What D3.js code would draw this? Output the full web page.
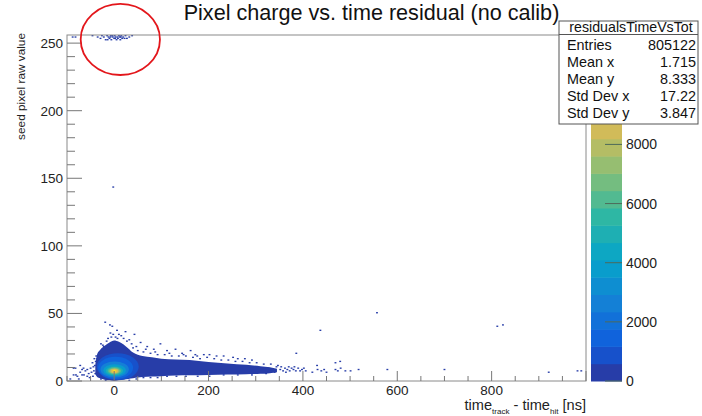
<!DOCTYPE html>
<html><head><meta charset="utf-8">
<script src="https://cdn.jsdelivr.net/npm/d3@7"></script>
<style>body{margin:0;background:#fff}svg{display:block;font-family:"Liberation Sans",Arial,Helvetica,sans-serif}</style>
</head><body><svg id="c" width="702" height="416"></svg>
<script>
// ---------- data ----------
const titleText = "Pixel charge vs. time residual (no calib)";
const xDomain = [-100, 1000];
const yDomain = [0, 256];
const zMax = 11700;
const nContours = 20;
const xTicks = [0, 200, 400, 600, 800];
const yTicks = [0, 50, 100, 150, 200, 250];
const zTicks = [0, 2000, 4000, 6000, 8000];

// dense body of the 2D histogram: column x (ns), lower / upper edge (raw value)
const bodyX  = [-40, -36, -30, -20, -10, 0, 10, 20, 30, 40, 50, 60, 80, 100, 130, 160, 200, 240, 280, 310, 330, 345];
const bodyLo = [5, 3, 2, 1, 0.5, 0, 0.5, 1, 1.5, 2, 2.5, 3, 3.3, 3.6, 4, 4.2, 4.4, 4.8, 5, 5.3, 5.8, 6.5];
const bodyHi = [12, 20, 23, 26, 28.5, 30, 29, 27, 24, 21, 19.5, 18.5, 17.5, 16.5, 16, 15.5, 14, 13, 12, 11, 10.2, 9];

// hot core: contour band and its extent
const coreBand = [1, 2, 4, 6, 8, 10, 12, 14, 16, 18];
const coreX0 = [-37, -34, -29, -23, -18, -14, -10.5, -7.5, -4.5, -2];
const coreX1 = [52, 40, 31, 25, 19, 15, 11.5, 8.5, 5.5, 3];
const coreY0 = [0.7, 1.5, 2.6, 3.6, 4.3, 4.9, 5.4, 5.8, 6.3, 6.9];
const coreY1 = [20.5, 18, 14.5, 12.4, 10.8, 10.1, 9.5, 9.0, 8.6, 8.1];

// isolated low-count bins [time residual, raw value]
const sparseBins = [
 // overflow cluster near 255
 [-90,254],[-84,254],[-48,255],[-43,256],[-37,254],[-31,253],[-28,255],[-24,254],[-20,252],[-17,255],[-14,254],[-12,253],[-9,255],[-8,252],[-5,254],[-4,256],[-2,253],[-1,255],[1,254],[3,252],[3,256],[5,254],[6,253],[8,255],[10,254],[11,252],[13,255],[15,253],[17,254],[18,256],[20,253],[22,255],[30,254],[36,255],[43,256],
 [-16,252],[-6,255],[0,253],[7,256],[12,254],[-10,254],[25,253],
 [-4,143],
 // far outliers
 [435,37],[555,50],[810,40],[822,41],[384,20],[428,11],[467,13],[477,14],
 // tail end
 [350,8],[356,7],[360,9],[365,8],[370,7],[374,9],[378,8],[383,7],[388,9],[392,7],[396,8],[400,9],[404,7],[418,6],[429,8],[437,7],[443,8],[448,6],[467,8],[472,7],[478,9],[488,7],[499,7],[516,8],[577,8],[698,8],[919,6],[980,7],[988,7],
 [320,7],[325,9],[332,8],[338,6],[342,10],[352,10],[362,6],[368,10],[380,10],
 // left of the peak
 [-95,1],[-88,4],[-88,9],[-84,9],[-83,4],[-80,3],[-77,1],[-74,6],[-74,11],[-70,8],[-70,4],[-67,9],[-66,4],[-63,7],[-59,3],[-59,8],[-56,5],[-52,9],[-50,6],[-47,3],[-45,7],[-43,11],[-41,14],[-42,5],
 [-46,10],[-44,16],[-40,18],[-48,13],[-54,2],
 // above the peak
 [-21,43],[-11,41],[-6,40],[4,37],[22,36],[41,34],[-10,35],[1,32],[13,33],[-24,25],[-28,22],[-33,18],[-38,16],[-36,12],[-30,27],[-15,31],[8,34],[30,30],[35,27],[45,25],[54,28],[68,25],[82,23],[96,27],[110,22],[128,23],[142,20],[160,22],[174,18],[188,19],
 [-18,29],[-8,32],[5,31],[18,31],[25,29],[-26,26],[-4,34],[38,24],[48,22],
 // upper fringe of the tail
 [60,21],[75,20],[90,19],[105,19],[120,18],[135,18],[150,18],[165,17],[180,16],[195,17],[210,16],[225,15],[240,15],[255,14],[270,14],[285,13],[300,13],[315,12],[330,12],[345,11],[200,19],[230,18],[260,16],[290,15],
 [65,23],[85,21],[115,20],[145,19],[170,19],[215,18],[250,17],[275,16],
 // lower fringe of the tail
 [30,0],[45,1],[60,2],[75,2],[90,2],[110,3],[130,3],[150,3],[175,3],[200,3],[230,4],[260,4],[290,4],[320,5],[-20,0],[-30,1]
];
const binW = 4, binH = 1;

const statsName = "residualsTimeVsTot";
const statsLabels = ["Entries", "Mean x", "Mean y", "Std Dev x", "Std Dev y"];
const statsValues = ["805122", "1.715", "8.333", "17.22", "3.847"];

// annotation ellipse (data units)
const markCenter = [13, 252.7], markRadius = [84, 26.3];

// ROOT kBird palette
const birdStops = [0, 0.125, 0.25, 0.375, 0.5, 0.625, 0.75, 0.875, 1];
const birdR = [0.2082, 0.0592, 0.0780, 0.0232, 0.1802, 0.5301, 0.8186, 0.9956, 0.9764];
const birdG = [0.1664, 0.3599, 0.5041, 0.6419, 0.7178, 0.7492, 0.7328, 0.7862, 0.9832];
const birdB = [0.5293, 0.8684, 0.8385, 0.7914, 0.6425, 0.4662, 0.3499, 0.1968, 0.0539];

// ---------- drawing ----------
const svg = d3.select("#c");
const F = {l: 67, r: 586, t: 35, b: 381};
const xs = d3.scaleLinear().domain(xDomain).range([F.l, F.r]);
const ys = d3.scaleLinear().domain(yDomain).range([F.b, F.t]);
const zs = d3.scaleLinear().domain([0, zMax]).range([F.b, F.t]);
const bird = d3.scaleLinear().domain(birdStops)
  .range(birdStops.map((s, i) => d3.rgb(birdR[i]*255, birdG[i]*255, birdB[i]*255)))
  .interpolate(d3.interpolateRgb);
function bandColor(i) {
  const idx = Math.min(254, Math.floor((i + 0.99) * 255 / nContours));
  return bird(idx / 254);
}

svg.append("rect").attr("width", 702).attr("height", 416).attr("fill", "#fff");
svg.append("clipPath").attr("id", "fr").append("rect")
  .attr("x", F.l).attr("y", F.t).attr("width", F.r - F.l).attr("height", F.b - F.t);
const plot = svg.append("g").attr("clip-path", "url(#fr)");

// sparse bins
plot.selectAll("rect.sp").data(sparseBins).join("rect").attr("class", "sp")
  .attr("x", d => xs(d[0]))
  .attr("y", d => ys(d[1] + binH))
  .attr("width", xs(binW) - xs(0))
  .attr("height", ys(0) - ys(binH))
  .attr("fill", bandColor(0));

// body
const body = bodyX.map((x, i) => ({x, lo: bodyLo[i], hi: bodyHi[i]}));
plot.append("path").datum(body)
  .attr("d", d3.area().x(d => xs(d.x)).y0(d => ys(d.lo)).y1(d => ys(d.hi)).curve(d3.curveMonotoneX))
  .attr("fill", bandColor(0));

// core
plot.selectAll("ellipse.core").data(coreBand).join("ellipse").attr("class", "core")
  .attr("cx", (b, i) => xs((coreX0[i] + coreX1[i]) / 2))
  .attr("cy", (b, i) => ys((coreY0[i] + coreY1[i]) / 2))
  .attr("rx", (b, i) => (xs(coreX1[i]) - xs(coreX0[i])) / 2)
  .attr("ry", (b, i) => (ys(coreY0[i]) - ys(coreY1[i])) / 2)
  .attr("fill", b => bandColor(b));

// frame
svg.append("rect").attr("x", F.l).attr("y", F.t).attr("width", F.r - F.l).attr("height", F.b - F.t)
  .attr("fill", "none").attr("stroke", "#8a8a8a").attr("stroke-width", 1);

// x ticks
const xMinor = d3.range(-100, 1001, 50);
svg.selectAll("line.xt").data(xMinor).join("line").attr("class", "xt")
  .attr("x1", d => xs(d)).attr("x2", d => xs(d))
  .attr("y1", F.b).attr("y2", d => F.b - (d % 200 === 0 ? 10 : 5))
  .attr("stroke", "#777");
svg.selectAll("text.xl").data(xTicks).join("text").attr("class", "xl")
  .attr("x", d => xs(d)).attr("y", 394.5).attr("text-anchor", "middle")
  .attr("font-size", 13.5).attr("fill", "#222").text(d => d);

// y ticks
const yMinor = d3.range(0, 256, 10);
svg.selectAll("line.yt").data(yMinor).join("line").attr("class", "yt")
  .attr("y1", d => ys(d)).attr("y2", d => ys(d))
  .attr("x1", F.l).attr("x2", d => F.l + (d % 50 === 0 ? 15 : 8))
  .attr("stroke", "#777");
svg.selectAll("text.yl").data(yTicks).join("text").attr("class", "yl")
  .attr("x", 63).attr("y", d => ys(d) + 5).attr("text-anchor", "end")
  .attr("font-size", 13.5).attr("fill", "#222").text(d => d);

// axis titles
const xt = svg.append("text").attr("x", F.r).attr("y", 409.5).attr("text-anchor", "end")
  .attr("font-size", 14.6).attr("fill", "#222");
xt.append("tspan").text("time");
xt.append("tspan").attr("font-size", 8).attr("dy", 4).text("track");
xt.append("tspan").attr("dy", -4).text(" - time");
xt.append("tspan").attr("font-size", 8).attr("dy", 4).text("hit");
xt.append("tspan").attr("dy", -4).text(" [ns]");

svg.append("text").attr("transform", "translate(25,33) rotate(-90)")
  .attr("text-anchor", "end").attr("font-size", 11.8).attr("fill", "#222")
  .text("seed pixel raw value");

// palette
const bands = d3.range(nContours);
svg.selectAll("rect.pal").data(bands).join("rect").attr("class", "pal")
  .attr("x", 591).attr("width", 31)
  .attr("y", i => zs((i + 1) * zMax / nContours))
  .attr("height", i => zs(i * zMax / nContours) - zs((i + 1) * zMax / nContours) + 0.5)
  .attr("fill", i => bandColor(i));
svg.selectAll("line.zt").data(zTicks).join("line").attr("class", "zt")
  .attr("x1", 605).attr("x2", 622).attr("y1", d => zs(d)).attr("y2", d => zs(d))
  .attr("stroke", "#4d6a5a").attr("stroke-width", 1);
svg.selectAll("text.zl").data(zTicks).join("text").attr("class", "zl")
  .attr("x", 626).attr("y", d => zs(d) + 5).attr("font-size", 14).attr("fill", "#222").text(d => d);

// title
svg.append("text").attr("x", 371.5).attr("y", 20).attr("text-anchor", "middle")
  .attr("font-size", 21.6).attr("fill", "#111").text(titleText);

// stats box
const S = {x: 559, y: 21, w: 139, h: 103};
svg.append("rect").attr("x", S.x).attr("y", S.y).attr("width", S.w).attr("height", S.h)
  .attr("fill", "#fff").attr("stroke", "#555");
svg.append("line").attr("x1", S.x).attr("x2", S.x + S.w).attr("y1", 34.5).attr("y2", 34.5).attr("stroke", "#555");
svg.append("text").attr("x", 631).attr("y", 32).attr("text-anchor", "middle")
  .attr("font-size", 14.2).attr("fill", "#111").text(statsName);
const rowY = [50, 67, 84, 101, 118];
statsLabels.forEach((l, i) => {
  svg.append("text").attr("x", 567).attr("y", rowY[i]).attr("font-size", 14.4).attr("fill", "#111").text(l);
  svg.append("text").attr("x", 696).attr("y", rowY[i]).attr("text-anchor", "end")
    .attr("font-size", 14.4).attr("fill", "#111").text(statsValues[i]);
});

// red annotation ellipse
svg.append("ellipse")
  .attr("cx", xs(markCenter[0])).attr("cy", ys(markCenter[1]))
  .attr("rx", xs(markRadius[0]) - xs(0)).attr("ry", ys(0) - ys(markRadius[1]))
  .attr("fill", "none").attr("stroke", "#e3161b").attr("stroke-width", 1.8);
</script></body></html>
